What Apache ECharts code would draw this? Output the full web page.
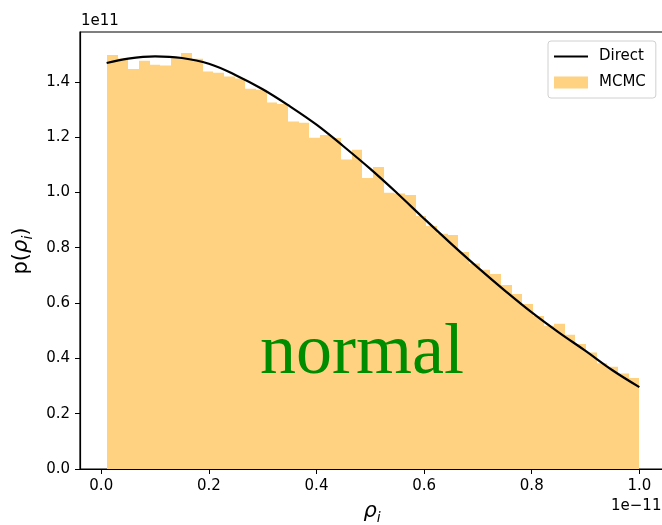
<!DOCTYPE html>
<html>
<head>
<meta charset="utf-8">
<script src="https://cdn.jsdelivr.net/npm/echarts@6/dist/echarts.min.js"></script>
<style>
  html, body { margin: 0; padding: 0; background: #fff; overflow: hidden; }
  /* a bit wider than the window: the right spine sits just outside the picture */
  #chart { width: 670px; height: 525px; }
</style>
</head>
<body>
<div id="chart"></div>
<script>
// histogram of MCMC samples (x in units of 1e-11, density in units of 1e11)
var binStart = 0.0105
var binEnd = 1.0
var mcmcValues = [
  1.497, 1.484, 1.446, 1.476, 1.462, 1.459, 1.485, 1.504, 1.483, 1.437,
  1.433, 1.419, 1.412, 1.375, 1.371, 1.325, 1.320, 1.256, 1.252, 1.198,
  1.208, 1.197, 1.119, 1.154, 1.052, 1.092, 0.999, 0.996, 0.991, 0.915,
  0.879, 0.851, 0.846, 0.785, 0.743, 0.720, 0.705, 0.665, 0.633, 0.597,
  0.553, 0.518, 0.525, 0.485, 0.452, 0.421, 0.382, 0.370, 0.345, 0.329
]
// direct density curve
var directX = [0.01, 0.05, 0.10, 0.15, 0.20, 0.25, 0.30, 0.35, 0.40, 0.45,
  0.50, 0.55, 0.60, 0.65, 0.70, 0.75, 0.80, 0.85, 0.90, 0.95, 1.00]
var directY = [1.468, 1.484, 1.492, 1.486, 1.465, 1.424, 1.373, 1.312, 1.245, 1.167,
  1.085, 0.997, 0.905, 0.815, 0.728, 0.645, 0.566, 0.494, 0.427, 0.357, 0.296]
var xTicks = [0, 0.2, 0.4, 0.6, 0.8, 1.0]
var yTicks = [0, 0.2, 0.4, 0.6, 0.8, 1.0, 1.2, 1.4]

var barColor = '#fed280'
var font = 'DejaVu Sans'

// bin edges -> [lo, hi, value]
var binWidth = (binEnd - binStart) / mcmcValues.length
var histData = mcmcValues.map(function (v, i) {
  return [binStart + i * binWidth, binStart + (i + 1) * binWidth, v]
})
var lineData = directX.map(function (x, i) { return [x, directY[i]] })

var chart = echarts.init(document.getElementById('chart'))
var option = {
  animation: false,
  backgroundColor: '#fff',
  grid: {
    left: 80, top: 32, width: 586, height: 437,
    show: true, borderColor: '#000', borderWidth: 1.2, backgroundColor: 'transparent'
  },
  legend: {
    orient: 'vertical',
    left: 548, top: 41,
    padding: [8, 10, 8, 5],
    itemWidth: 34, itemHeight: 12, itemGap: 11,
    backgroundColor: '#fff',
    borderColor: '#d0d0d0', borderWidth: 1, borderRadius: 3,
    textStyle: { fontFamily: font, fontSize: 15, color: '#000', padding: [0, 0, 0, 6] },
    data: [
      { name: 'Direct', itemStyle: { opacity: 0 } },
      { name: 'MCMC', icon: 'rect', itemStyle: { color: barColor } }
    ]
  },
  xAxis: {
    type: 'value', min: -0.0395, max: 1.0495,
    splitLine: { show: false },
    axisLine: { onZero: false, lineStyle: { color: '#000', width: 1.2 } },
    axisTick: { show: true, length: 5, lineStyle: { color: '#000' }, customValues: xTicks },
    axisLabel: {
      margin: 10, color: '#000', fontFamily: font, fontSize: 15,
      customValues: xTicks,
      formatter: function (v) { return v.toFixed(1) }
    }
  },
  yAxis: {
    type: 'value', min: 0, max: 1.58,
    splitLine: { show: false },
    axisLine: { show: true, onZero: false, lineStyle: { color: '#000', width: 1.2 } },
    axisTick: { show: true, length: 5, lineStyle: { color: '#000' }, customValues: yTicks },
    axisLabel: {
      margin: 10, color: '#000', fontFamily: font, fontSize: 15,
      customValues: yTicks,
      formatter: function (v) { return v.toFixed(1) }
    }
  },
  series: [
    {
      name: 'MCMC',
      type: 'custom',
      itemStyle: { color: barColor },
      encode: { x: [0, 1], y: 2 },
      data: histData,
      renderItem: function (params, api) {
        var p0 = api.coord([api.value(0), api.value(2)])
        var p1 = api.coord([api.value(1), 0])
        var x0 = Math.round(p0[0])
        var x1 = Math.round(p1[0])
        return {
          type: 'rect',
          shape: { x: x0, y: p0[1], width: x1 - x0, height: p1[1] - p0[1] },
          style: { fill: barColor }
        }
      }
    },
    {
      name: 'Direct',
      type: 'line',
      data: lineData,
      smooth: 0.4,
      symbol: 'none',
      z: 5,
      itemStyle: { color: '#000' },
      lineStyle: { color: '#000', width: 2.2 }
    }
  ],
  graphic: [
    {
      type: 'text', left: 81, top: 14,
      style: { text: '1e11', fontFamily: font, fontSize: 15, fill: '#000' }
    },
    {
      type: 'text', left: 611, top: 499,
      style: { text: '1e\u221211', fontFamily: font, fontSize: 15, fill: '#000' }
    },
    {
      type: 'text', x: 362, y: 354,
      style: {
        text: 'normal', fontFamily: 'Liberation Serif', fontSize: 72,
        fill: '#008c00', align: 'center', verticalAlign: 'middle'
      },
      z: 10
    },
    {
      type: 'text', x: 372, y: 512,
      style: {
        text: '{g|ρ}{s|i}', align: 'center', verticalAlign: 'middle',
        rich: {
          g: { fontFamily: font, fontStyle: 'italic', fontSize: 21, fill: '#000', lineHeight: 26 },
          s: { fontFamily: font, fontStyle: 'italic', fontSize: 14, fill: '#000', lineHeight: 14, verticalAlign: 'bottom' }
        }
      }
    },
    {
      type: 'text', x: 22, y: 251, rotation: Math.PI / 2,
      style: {
        text: '{n|p(}{g|ρ}{s|i}{n|)}', align: 'center', verticalAlign: 'middle',
        rich: {
          n: { fontFamily: font, fontSize: 21, fill: '#000', lineHeight: 26 },
          g: { fontFamily: font, fontStyle: 'italic', fontSize: 21, fill: '#000', lineHeight: 26 },
          s: { fontFamily: font, fontStyle: 'italic', fontSize: 14, fill: '#000', lineHeight: 14, verticalAlign: 'bottom' }
        }
      }
    }
  ]
}
chart.setOption(option)
</script>
</body>
</html>
